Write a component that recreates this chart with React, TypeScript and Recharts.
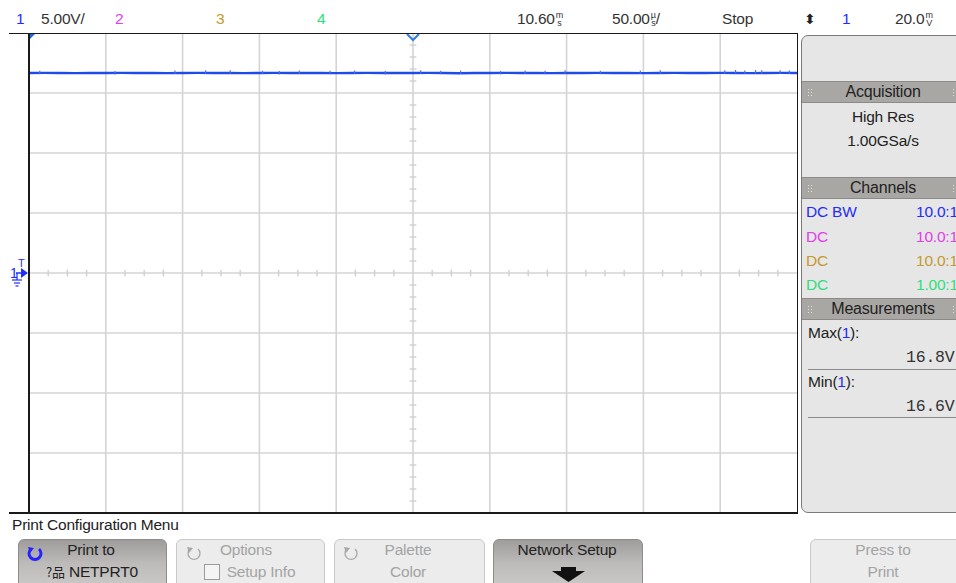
import React from 'react';
import { ComposedChart, Line, Scatter, XAxis, YAxis, ReferenceLine, ReferenceDot } from 'recharts';

// ---- data (time in µs relative to 10.60 ms, volts on channel 1) ----
const timeUs = [-250, -240, -230, -220, -210, -200, -190, -180, -170, -160, -150, -140, -130, -120, -110, -100, -90, -80, -70, -60, -50, -40, -30, -20, -10, 0, 10, 20, 30, 40, 50, 60, 70, 80, 90, 100, 110, 120, 130, 140, 150, 160, 170, 180, 190, 200, 210, 220, 230, 240, 250];
const ch1Volts = [16.67, 16.68, 16.67, 16.66, 16.67, 16.67, 16.68, 16.67, 16.67, 16.66,
  16.67, 16.68, 16.67, 16.67, 16.66, 16.67, 16.68, 16.67, 16.67, 16.67,
  16.66, 16.67, 16.68, 16.67, 16.67, 16.67, 16.68, 16.67, 16.65, 16.67,
  16.67, 16.68, 16.67, 16.67, 16.66, 16.67, 16.67, 16.68, 16.67, 16.67,
  16.66, 16.67, 16.68, 16.67, 16.67, 16.68, 16.67, 16.66, 16.67, 16.68,
  16.67];
const spikeTimes = [-243, -194, -155, -135, -119, -98, -87, -74, -54, -38, -18, 5, 18, 31, 57, 73, 86, 99, 122, 148, 161, 203, 210, 216, 223, 227, 239, 245];
const spikeVolts = [16.82, 16.8, 16.84, 16.86, 16.85, 16.82, 16.8, 16.83, 16.81, 16.84, 16.8, 16.86, 16.82, 16.84, 16.8, 16.83, 16.82, 16.85, 16.81, 16.84, 16.86, 16.85, 16.88, 16.84, 16.87, 16.85, 16.86, 16.84];

const xGrid = [-200, -150, -100, -50, 0, 50, 100, 150, 200];
const yGrid = [-15, -10, -5, 0, 5, 10, 15];
const xDomain = [-250, 250];
const yDomain = [-20, 20];

const xMinor = Array.from({ length: 39 }, (_, i) => -237.5 + i * 12.5).filter((t) => t % 50 !== 0);
const yMinor = Array.from({ length: 39 }, (_, i) => -19 + i).filter((v) => v % 5 !== 0);

const traceData = timeUs.map((t, i) => ({ t, v: ch1Volts[i] }));
const spikeData = spikeTimes.map((t, i) => ({ t, v: spikeVolts[i] }));

const FONT = '"Liberation Sans", Arial, sans-serif';
const C1 = '#1f2cff';
const C2 = '#e040e8';
const C3 = '#c49a2c';
const C4 = '#2ee07a';
const TXT = '#333';

const T = ({ x, y, c = TXT, size = 15.5, align = 'left', font = FONT, children, w = 200 }: any) => {
  const lh = 20;
  let left = x;
  if (align === 'center') left = x - w / 2;
  if (align === 'right') left = x - w;
  return (
    <div style={{ position: 'absolute', left, top: y - lh / 2, width: w, height: lh, lineHeight: lh + 'px', fontSize: size, color: c, fontFamily: font, textAlign: align, whiteSpace: 'nowrap', letterSpacing: -0.2 }}>
      {children}
    </div>
  );
};

const Stack = ({ a, b }: any) => (
  <span style={{ display: 'inline-block', fontSize: 9, lineHeight: '8px', verticalAlign: 'top', marginTop: 2, textAlign: 'center', marginLeft: 1 }}>
    <span style={{ display: 'block' }}>{a}</span>
    <span style={{ display: 'block' }}>{b}</span>
  </span>
);

const Grip = ({ x, y }: any) => (
  <div style={{ position: 'absolute', left: x, top: y, width: 5, height: 9, backgroundImage: 'radial-gradient(circle, #e2e2e2 0.9px, transparent 1px)', backgroundSize: '3px 3px' }} />
);

const Header = ({ y, label }: any) => (
  <>
    <div style={{ position: 'absolute', left: 802, top: y, width: 170, height: 20, background: '#a9a7a4', borderTop: '1px solid #8c8a88', borderBottom: '1px solid #8c8a88' }} />
    <Grip x={807} y={y + 7} />
    <Grip x={952} y={y + 7} />
    <T x={883} y={y + 11} align="center" c="#222" size={16}>{label}</T>
  </>
);

const Button = ({ x, w, active, children }: any) => (
  <div style={{ position: 'absolute', left: x, top: 539, width: w, height: 60, borderRadius: 6, boxSizing: 'border-box', border: active ? '1px solid #8e8c8a' : '1px solid #c9c9c9', background: active ? 'linear-gradient(#9f9d9b, #bdbbb9 40%, #d2d0ce)' : '#ececec' }}>
    {children}
  </div>
);

const RotIcon = ({ x, y, color, sw }: any) => (
  <svg style={{ position: 'absolute', left: x, top: y }} width={18} height={18}>
    <path d="M 5 4 A 6 6 0 1 0 13 4" fill="none" stroke={color} strokeWidth={sw} />
    <path d="M 2 2 L 8 3 L 4 8 Z" fill={color} />
  </svg>
);

const spikeShape = (p: any) => <line x1={p.cx} x2={p.cx} y1={p.cy - 0.5} y2={p.cy + 3} stroke="#4a6ef0" strokeWidth={1.2} />;

const trigShape = (p: any) => <path d={`M ${p.cx - 6} ${p.cy + 1} L ${p.cx} ${p.cy + 7} L ${p.cx + 6} ${p.cy + 1}`} fill="none" stroke="#2f7be6" strokeWidth={2} />;
const cornerShape = (p: any) => <path d={`M ${p.cx} ${p.cy} L ${p.cx + 7} ${p.cy} L ${p.cx} ${p.cy + 7} Z`} fill="#2266dd" />;
const gndShape = (p: any) => (
  <g fill={C1} stroke={C1}>
    <text x={p.cx - 19} y={p.cy + 5} fontSize={14} stroke="none" fontFamily={FONT}>1</text>
    <text x={p.cx - 11} y={p.cy - 6} fontSize={11} stroke="none" fontFamily={FONT}>T</text>
    <line x1={p.cx - 13} x2={p.cx - 7} y1={p.cy} y2={p.cy} strokeWidth={1.5} />
    <path d={`M ${p.cx - 8} ${p.cy - 5} L ${p.cx - 1} ${p.cy} L ${p.cx - 8} ${p.cy + 5} Z`} stroke="none" />
    <line x1={p.cx - 12} x2={p.cx - 12} y1={p.cy} y2={p.cy + 7} strokeWidth={1.2} />
    <line x1={p.cx - 17} x2={p.cx - 7} y1={p.cy + 7} y2={p.cy + 7} strokeWidth={1.2} />
    <line x1={p.cx - 15} x2={p.cx - 9} y1={p.cy + 10} y2={p.cy + 10} strokeWidth={1.2} />
    <line x1={p.cx - 13.5} x2={p.cx - 10.5} y1={p.cy + 13} y2={p.cy + 13} strokeWidth={1.2} />
  </g>
);

export default function App() {
  return (
    <div style={{ position: 'absolute', left: 0, top: 0, width: 956, height: 583, overflow: 'hidden', background: '#fff', fontFamily: FONT }}>
      <div style={{ position: 'absolute', left: 0, top: 0 }}>
        <ComposedChart width={956} height={583} margin={{ top: 33, right: 159, bottom: 70, left: 29 }}>
          <XAxis type="number" dataKey="t" domain={xDomain} hide allowDataOverflow />
          <YAxis type="number" dataKey="v" domain={yDomain} hide allowDataOverflow />
          {xGrid.map((t) => (
            <ReferenceLine key={'gx' + t} x={t} stroke="#d4d4d4" strokeWidth={1.6} />
          ))}
          {yGrid.map((v) => (
            <ReferenceLine key={'gy' + v} y={v} stroke="#d4d4d4" strokeWidth={1.6} />
          ))}
          {xMinor.map((t) => (
            <ReferenceLine key={'mx' + t} segment={[{ x: t, y: -0.28 }, { x: t, y: 0.28 }]} stroke="#d0d0d0" strokeWidth={1.4} />
          ))}
          {yMinor.map((v) => (
            <ReferenceLine key={'my' + v} segment={[{ x: -2.2, y: v }, { x: 2.2, y: v }]} stroke="#d0d0d0" strokeWidth={1.4} />
          ))}
          <Line data={traceData} dataKey="v" type="linear" stroke="#1f4ce8" strokeWidth={2.4} dot={false} activeDot={false} isAnimationActive={false} />
          <Scatter data={spikeData} dataKey="v" shape={spikeShape} isAnimationActive={false} />
          <ReferenceDot x={0} y={20} r={6} shape={trigShape} ifOverflow="visible" />
          <ReferenceDot x={-250} y={20} r={6} shape={cornerShape} ifOverflow="visible" />
          <ReferenceDot x={-250} y={0} r={6} shape={gndShape} ifOverflow="visible" />
        </ComposedChart>
      </div>

      {/* frame */}
      <div style={{ position: 'absolute', left: 9, top: 32.5, width: 789, height: 1.5, background: '#1a1a1a' }} />
      <div style={{ position: 'absolute', left: 9, top: 512, width: 789, height: 1.5, background: '#1a1a1a' }} />
      <div style={{ position: 'absolute', left: 27.5, top: 33, width: 2, height: 480, background: '#1a1a1a' }} />
      <div style={{ position: 'absolute', left: 796.5, top: 33, width: 1.5, height: 480, background: '#1a1a1a' }} />

      {/* top status bar */}
      <T x={16} y={19} c={C1}>1</T>
      <T x={41} y={19}>5.00V/</T>
      <T x={115} y={19} c={C2}>2</T>
      <T x={216} y={19} c={C3}>3</T>
      <T x={317} y={19} c={C4}>4</T>
      <T x={517} y={19}>10.60<Stack a="m" b="s" /></T>
      <T x={612} y={19}>50.00<Stack a="µ" b="s" />/</T>
      <T x={722} y={19}>Stop</T>
      <T x={804} y={19} size={14} c="#222">⬍</T>
      <T x={842} y={19} c={C1}>1</T>
      <T x={895} y={19}>20.0<Stack a="m" b="V" /></T>

      {/* right panel */}
      <div style={{ position: 'absolute', left: 801, top: 35, width: 180, height: 478, boxSizing: 'border-box', background: '#e6e6e6', border: '1.5px solid #7a7a7a', borderRadius: 7 }} />
      <Header y={81} label="Acquisition" />
      <T x={883} y={117} align="center" c="#222">High Res</T>
      <T x={883} y={141} align="center" c="#222">1.00GSa/s</T>
      <Header y={177} label="Channels" />
      <T x={806} y={212} c={C1}>DC BW</T>
      <T x={916} y={212} c={C1}>10.0:1</T>
      <T x={806} y={237} c={C2}>DC</T>
      <T x={916} y={237} c={C2}>10.0:1</T>
      <T x={806} y={261} c={C3}>DC</T>
      <T x={916} y={261} c={C3}>10.0:1</T>
      <T x={806} y={285} c={C4}>DC</T>
      <T x={916} y={285} c={C4}>1.00:1</T>
      <Header y={298} label="Measurements" />
      <T x={808} y={333} c="#222">Max(<span style={{ color: C1 }}>1</span>):</T>
      <T x={906} y={358} c="#333" font='"Liberation Mono", monospace' size={16.5}>16.8V</T>
      <div style={{ position: 'absolute', left: 808, top: 368.5, width: 160, height: 1.5, background: '#8a8a8a' }} />
      <T x={808} y={382} c="#222">Min(<span style={{ color: C1 }}>1</span>):</T>
      <T x={906} y={407} c="#333" font='"Liberation Mono", monospace' size={16.5}>16.6V</T>
      <div style={{ position: 'absolute', left: 808, top: 416.5, width: 160, height: 1.5, background: '#8a8a8a' }} />

      {/* bottom menu */}
      <T x={12} y={525} c="#222">Print Configuration Menu</T>
      <Button x={18} w={149} active>
        <RotIcon x={7} y={5} color="#2424ff" sw={3} />
      </Button>
      <T x={91} y={550} align="center" c="#222">Print to</T>
      <T x={92} y={572} align="center" c="#222"><span style={{ fontFamily: '"Noto Sans CJK SC", sans-serif', fontSize: 13 }}>?品</span> NETPRT0</T>

      <Button x={176} w={149}>
        <RotIcon x={8} y={5} color="#a8a8a8" sw={1.3} />
        <div style={{ position: 'absolute', left: 27, top: 24, width: 14, height: 14, border: '1px solid #9a9a9a', background: '#f4f4f4' }} />
      </Button>
      <T x={246} y={550} align="center" c="#a3a3a3">Options</T>
      <T x={261} y={572} align="center" c="#a3a3a3">Setup Info</T>

      <Button x={334} w={151}>
        <RotIcon x={7} y={5} color="#a8a8a8" sw={1.3} />
      </Button>
      <T x={408} y={550} align="center" c="#a3a3a3">Palette</T>
      <T x={408} y={572} align="center" c="#a3a3a3">Color</T>

      <Button x={493} w={150} active>
        <svg style={{ position: 'absolute', left: 58, top: 27 }} width={36} height={18}>
          <path d="M 9 0 H 24 V 4 H 33 L 16.5 15 L 0 4 H 9 Z" fill="#111" />
        </svg>
      </Button>
      <T x={567} y={550} align="center" c="#222">Network Setup</T>

      <Button x={810} w={170} />
      <T x={883} y={550} align="center" c="#a3a3a3">Press to</T>
      <T x={883} y={572} align="center" c="#a3a3a3">Print</T>
    </div>
  );
}
